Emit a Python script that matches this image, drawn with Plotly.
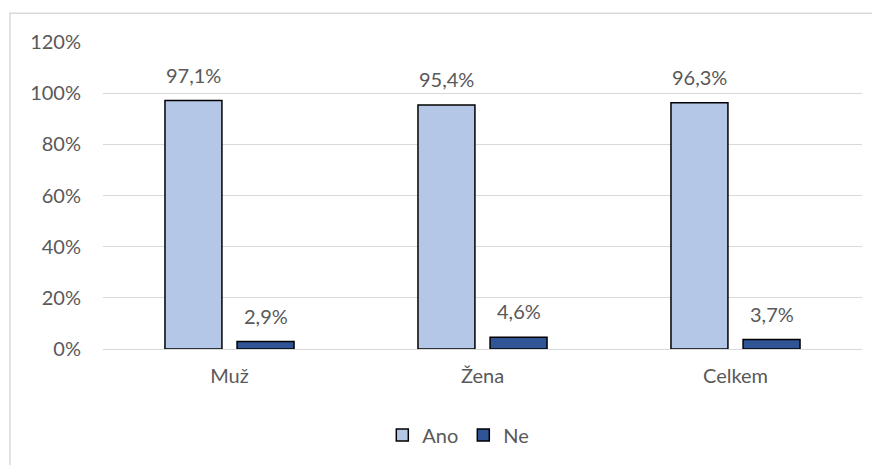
import plotly.graph_objects as go

# data
kategorie = ['Muž', 'Žena', 'Celkem']
ano = [97.1, 95.4, 96.3]
ne = [2.9, 4.6, 3.7]
y_ticks = [0, 20, 40, 60, 80, 100, 120]

FONT = 'Lato'
TXT = '#595959'
VEL = 20


def popisek(hodnoty):
    return [f'{v:.1f}%'.replace('.', ',') for v in hodnoty]


fig = go.Figure()
fig.add_trace(go.Bar(
    name='Ano', x=kategorie, y=ano,
    marker=dict(color='#B4C7E7', line=dict(color='#000000', width=1.5)),
))
fig.add_trace(go.Bar(
    name='Ne', x=kategorie, y=ne,
    marker=dict(color='#2F5597', line=dict(color='#000000', width=1.5)),
))

# popisky nad sloupci (posunute na stred sloupce ve skupine)
for hodnoty, posun in [(ano, -36), (ne, 36)]:
    for k, v, t in zip(kategorie, hodnoty, popisek(hodnoty)):
        fig.add_annotation(x=k, y=v, text=t, showarrow=False,
                           xshift=posun, yshift=12, yanchor='bottom',
                           font=dict(family=FONT, size=VEL, color=TXT))

fig.update_layout(
    width=872, height=457,
    margin=dict(l=95, r=18, t=34, b=115),
    paper_bgcolor='white', plot_bgcolor='white',
    barmode='group', bargap=0.43, bargroupgap=0.21,
    font=dict(family=FONT, size=VEL, color=TXT),
    legend=dict(orientation='h', x=0.368, xanchor='left', y=-0.276, yanchor='middle',
                font=dict(family=FONT, size=VEL, color=TXT), itemwidth=30,
                traceorder='normal'),
)
fig.update_yaxes(
    range=[0, 120], tickvals=y_ticks, ticktext=[f'{t}%' for t in y_ticks],
    showgrid=True, gridcolor='#D9D9D9', gridwidth=1, zeroline=False,
    showline=False, ticks='', ticklabelstandoff=21,
)
fig.update_xaxes(
    showline=True, linecolor='#D9D9D9', linewidth=1, ticks='',
    ticklabelstandoff=9,
)
# ramecek grafu
fig.add_shape(type='rect', xref='paper', yref='paper',
              x0=-0.1225, x1=1.3, y0=-0.8, y1=1.094,
              line=dict(color='#D9D9D9', width=1.5), fillcolor='rgba(0,0,0,0)', layer='below')

fig.write_html('out.html')
